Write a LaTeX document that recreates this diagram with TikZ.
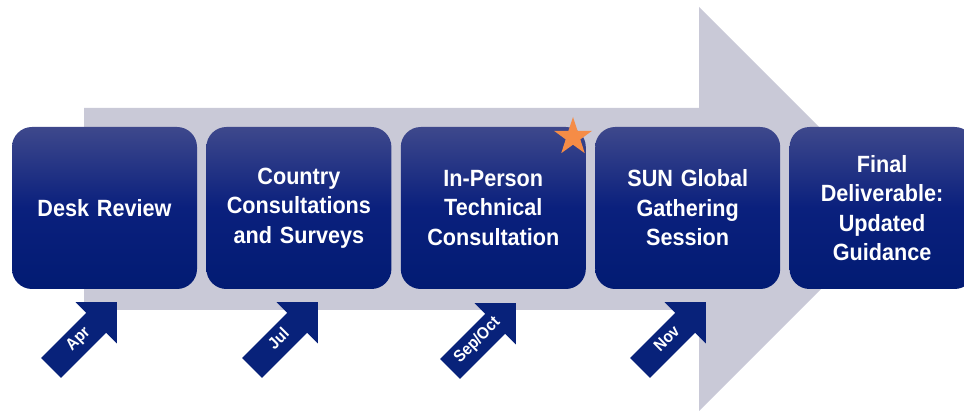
\documentclass[tikz,border=0pt]{standalone}
\usepackage{fontspec}
\setmainfont{Liberation Sans}[FakeStretch=0.92]
\usetikzlibrary{positioning, shapes}

\definecolor{trackgray}{RGB}{201,201,215}
\definecolor{navytop}{RGB}{62,72,140}
\definecolor{navymid}{RGB}{10,32,125}
\definecolor{navybot}{RGB}{2,27,115}
\definecolor{pointer}{RGB}{8,34,122}
\definecolor{staror}{RGB}{245,140,70}

\begin{document}
\begin{tikzpicture}
            [x=1pt, y=1pt, node distance=9pt,
             stage/.style={rounded corners=20pt, minimum width=185pt, minimum height=162pt,
                           text width=175pt, align=center, text=white,
                           top color=navytop, bottom color=navybot, middle color=navymid,
                           font=\bfseries\fontsize{23.5}{29.5}\selectfont},
             month/.style={single arrow, fill=pointer, text=white, rotate=45, anchor=tip,
                           single arrow head extend=15.2pt, single arrow tip angle=90,
                           single arrow head indent=0pt, minimum height=93pt, minimum width=0pt,
                           inner xsep=3pt, inner ysep=7.3pt, text height=10pt, text depth=3pt,
                           font=\bfseries\fontsize{16.5}{18}\selectfont}]
            \useasboundingbox (0,0) rectangle (964,410);

            % big timeline arrow
            \fill[trackgray] (84,100) -- (84,302) -- (699,302) -- (699,403)
                -- (901,201) -- (699,-1) -- (699,100) -- cycle;

            \node[stage] (desk) at (104.5,202) {Desk Review};
            \node[stage, right=of desk] (country) {Country\\Consultations\\and Surveys};
            \node[stage, right=of country] (inperson) {In-Person\\Technical\\Consultation};
            \node[stage, right=of inperson] (sun) {SUN Global\\Gathering\\Session};
            \node[stage, right=of sun] (final) {Final\\Deliverable:\\Updated\\Guidance};

            \node[star, star points=5, star point ratio=2.6, fill=staror, minimum size=40pt,
                  inner sep=0pt] (star) at (573,273) {};

            \node[month] (apr) at (117,108) {Apr};
            \node[month] (jul) at (318,108) {Jul};
            \node[month] (sepoct) at (516,107) {Sep/Oct};
            \node[month] (nov) at (706,108) {Nov};
        \end{tikzpicture}
\end{document}
